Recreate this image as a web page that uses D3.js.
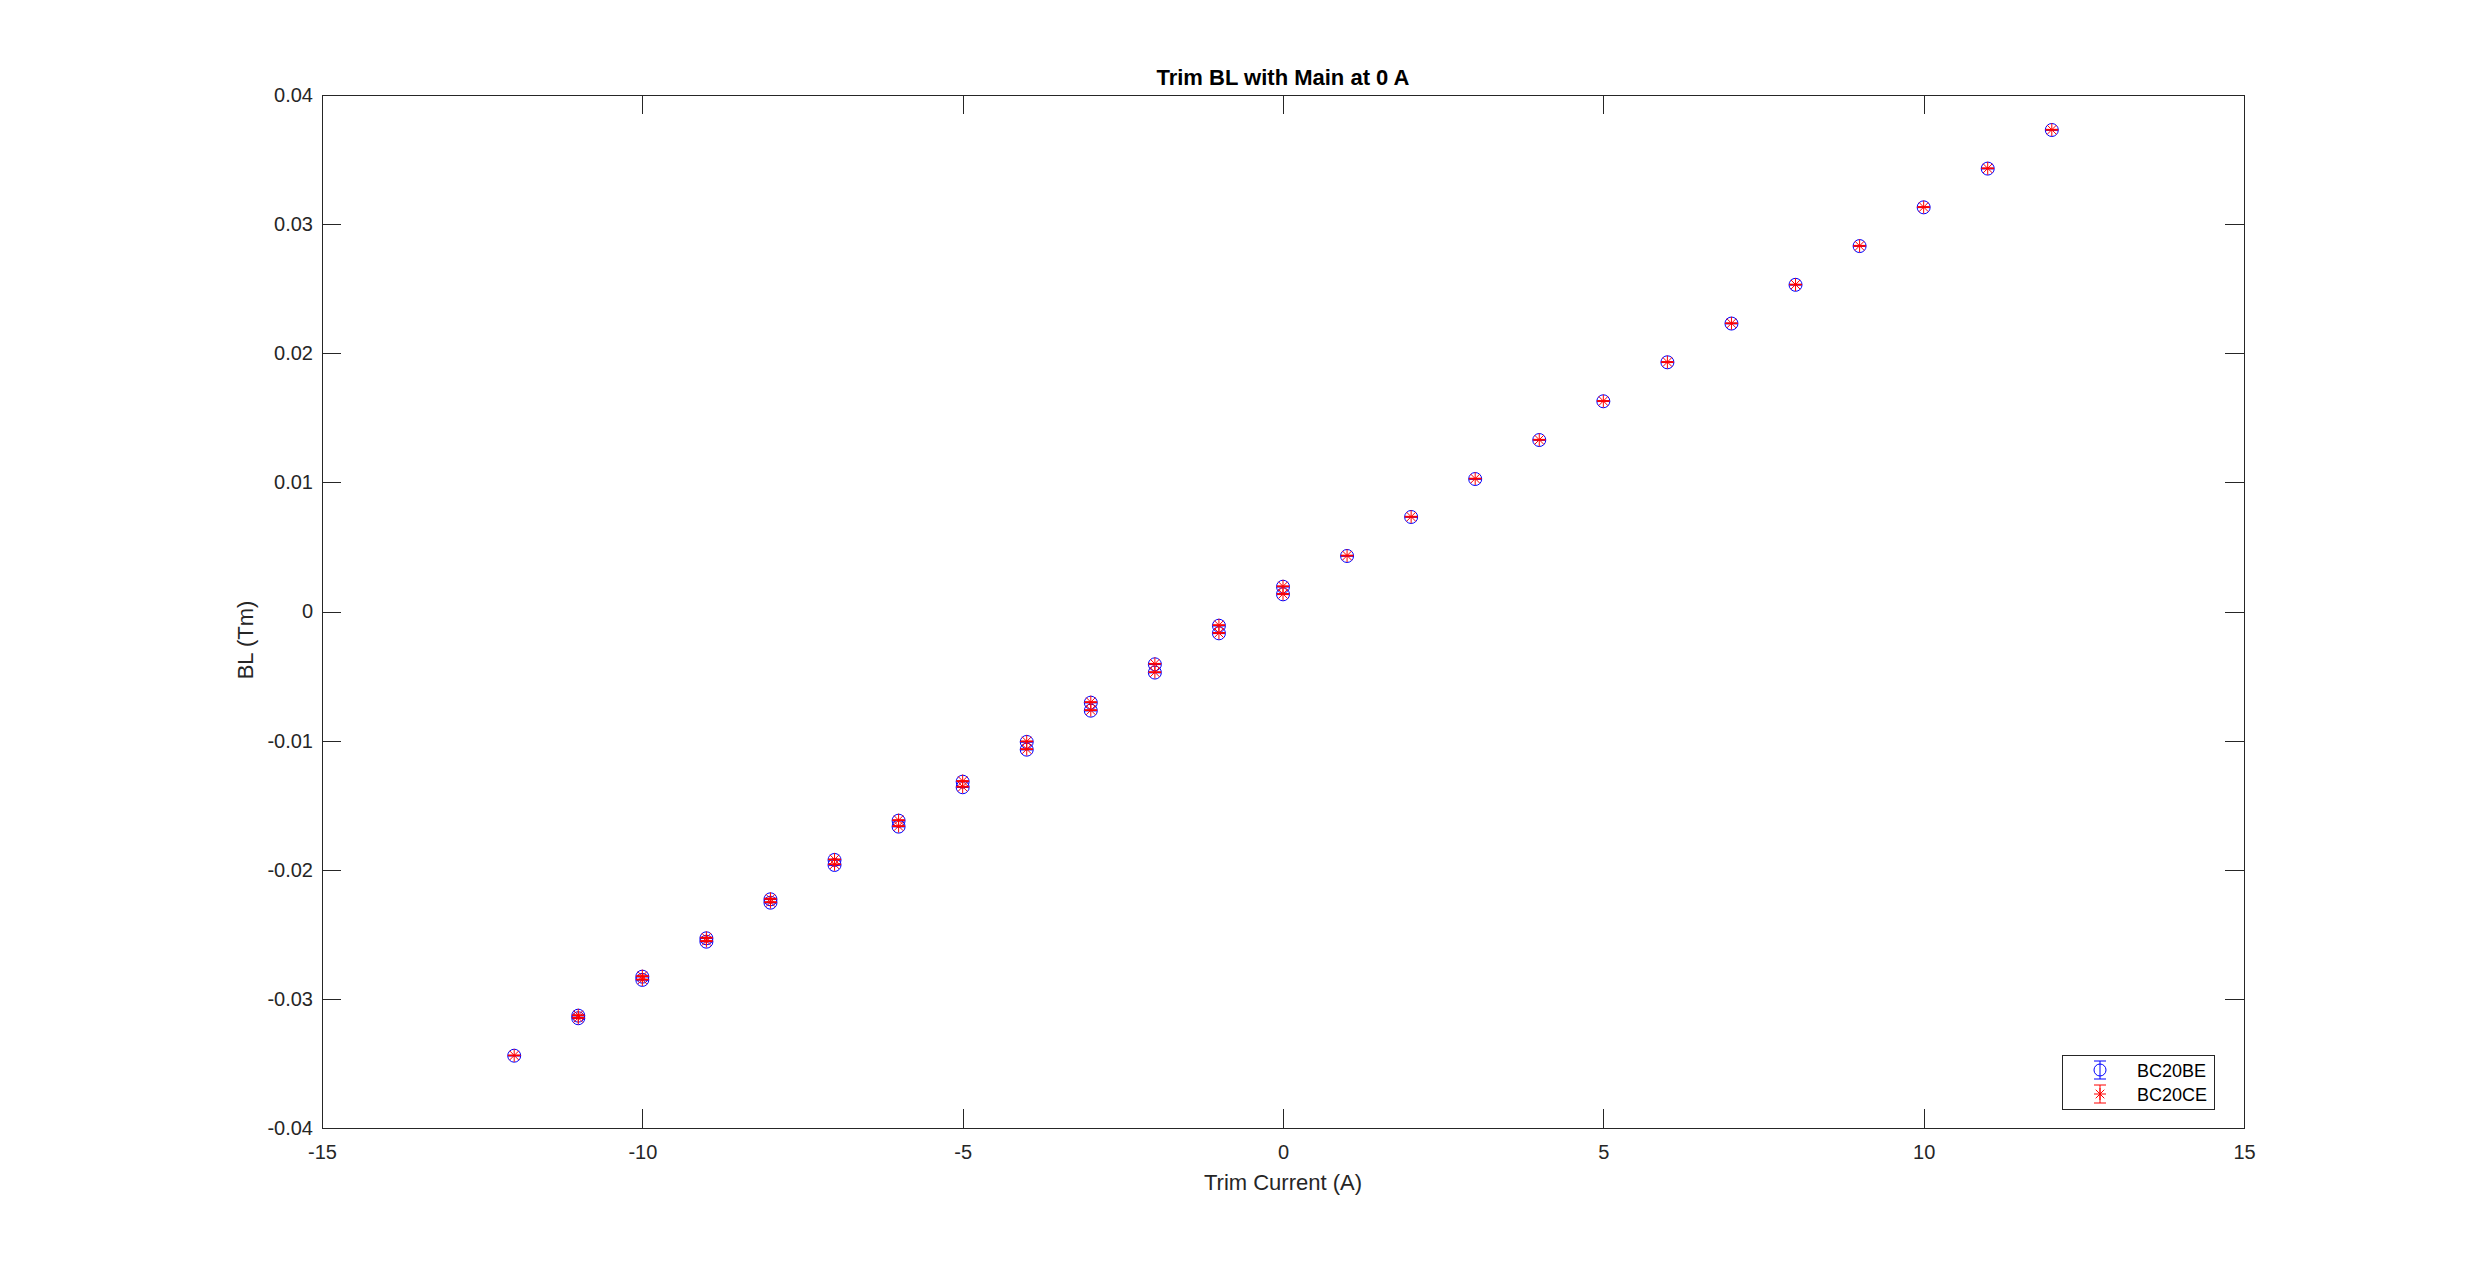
<!DOCTYPE html>
<html lang="en">

<head>
    <meta charset="UTF-8">
    <title>Trim BL with Main at 0 A</title>
    <style>
        body {
            margin: 0;
            background: #fff;
        }

        text {
            font-family: "Liberation Sans", Arial, Helvetica, sans-serif;
        }

        .axis path,
        .axis line {
            stroke: #262626;
            stroke-width: 1;
            shape-rendering: crispEdges;
        }

        .axis text {
            fill: #262626;
            font-size: 20px;
        }
    </style>
</head>

<body>
    <script src="https://d3js.org/d3.v7.min.js"></script>
    <script>

        // trim current (A): sweep -12 -> 12, then the return branch 0 -> -11
        let trim = [-12, -11, -10, -9, -8, -7, -6, -5, -4, -3, -2, -1, 0, 1, 2, 3, 4, 5, 6, 7, 8, 9, 10, 11, 12,
            0, -1, -2, -3, -4, -5, -6, -7, -8, -9, -10, -11];

        // BL (Tm)
        let blBE = [-0.03440, -0.03150, -0.02853, -0.02557, -0.02255, -0.01963, -0.01666, -0.01361, -0.01070, -0.00768,
            -0.00473, -0.00169, 0.00133, 0.00430, 0.00732, 0.01026, 0.01328, 0.01628, 0.01930, 0.02230,
            0.02530, 0.02830, 0.03130, 0.03430, 0.03729,
            0.00192, -0.00110, -0.00409, -0.00706, -0.01010, -0.01318, -0.01620, -0.01924, -0.02229, -0.02531,
            -0.02828, -0.03130];
        let blCE = [-0.03438, -0.03147, -0.02850, -0.02552, -0.02251, -0.01958, -0.01662, -0.01357, -0.01066, -0.00764,
            -0.00470, -0.00166, 0.00136, 0.00433, 0.00734, 0.01029, 0.01330, 0.01630, 0.01932, 0.02232,
            0.02532, 0.02832, 0.03132, 0.03432, 0.03731,
            0.00195, -0.00106, -0.00405, -0.00702, -0.01006, -0.01313, -0.01616, -0.01920, -0.02225, -0.02527,
            -0.02824, -0.03127];

        // error bars (tiny, hidden inside the markers)
        let errBE = [0.00002, 0.00002, 0.00002, 0.00002, 0.00002, 0.00002, 0.00002, 0.00002, 0.00002, 0.00002,
            0.00002, 0.00002, 0.00002, 0.00002, 0.00002, 0.00002, 0.00002, 0.00002, 0.00002, 0.00002,
            0.00002, 0.00002, 0.00002, 0.00002, 0.00002,
            0.00002, 0.00002, 0.00002, 0.00002, 0.00002, 0.00002, 0.00002, 0.00002, 0.00002, 0.00002,
            0.00002, 0.00002];
        let errCE = [0.00003, 0.00003, 0.00003, 0.00003, 0.00003, 0.00003, 0.00003, 0.00003, 0.00003, 0.00003,
            0.00003, 0.00003, 0.00003, 0.00003, 0.00003, 0.00003, 0.00003, 0.00003, 0.00003, 0.00003,
            0.00003, 0.00003, 0.00003, 0.00003, 0.00003,
            0.00003, 0.00003, 0.00003, 0.00003, 0.00003, 0.00003, 0.00003, 0.00003, 0.00003, 0.00003,
            0.00003, 0.00003];

        let seriesNames = ['BC20BE', 'BC20CE'];
        let xTicks = [-15, -10, -5, 0, 5, 10, 15];
        let yTicks = [-0.04, -0.03, -0.02, -0.01, 0, 0.01, 0.02, 0.03, 0.04];

        // 1. svg + scales
        let W = 2481, H = 1269;
        let m = { l: 322, r: 2244, t: 95, b: 1128 };

        let s = d3.select('body').append('svg')
            .attr('width', W)
            .attr('height', H);

        s.append('rect').attr('width', W).attr('height', H).attr('fill', '#fff');

        let x = d3.scaleLinear().domain([-15, 15]).range([m.l, m.r]);
        let y = d3.scaleLinear().domain([-0.04, 0.04]).range([m.b, m.t]);

        let tk = 19;
        let fmt = d => String(d);

        // 2. axes (box with inward ticks on all sides)
        s.append('g').attr('class', 'axis')
            .attr('transform', `translate(0,${m.b})`)
            .call(d3.axisBottom(x).tickValues(xTicks).tickFormat(fmt).tickSizeInner(-tk).tickSizeOuter(0).tickPadding(17));
        s.append('g').attr('class', 'axis')
            .attr('transform', `translate(0,${m.t})`)
            .call(d3.axisTop(x).tickValues(xTicks).tickFormat('').tickSizeInner(-tk).tickSizeOuter(0));
        s.append('g').attr('class', 'axis')
            .attr('transform', `translate(${m.l},0)`)
            .call(d3.axisLeft(y).tickValues(yTicks).tickFormat(fmt).tickSizeInner(-tk).tickSizeOuter(0).tickPadding(9));
        s.append('g').attr('class', 'axis')
            .attr('transform', `translate(${m.r},0)`)
            .call(d3.axisRight(y).tickValues(yTicks).tickFormat('').tickSizeInner(-tk).tickSizeOuter(0));

        s.selectAll('.axis .domain').attr('fill', 'none');

        // 3. labels
        s.append('text')
            .attr('x', x(0)).attr('y', 85)
            .attr('text-anchor', 'middle')
            .style('font-size', '22px').style('font-weight', 'bold')
            .attr('fill', '#000')
            .text('Trim BL with Main at 0 A');

        s.append('text')
            .attr('x', x(0)).attr('y', 1190)
            .attr('text-anchor', 'middle')
            .style('font-size', '22px')
            .attr('fill', '#262626')
            .text('Trim Current (A)');

        s.append('text')
            .attr('transform', 'translate(253,640) rotate(-90)')
            .attr('text-anchor', 'middle')
            .style('font-size', '22px')
            .attr('fill', '#262626')
            .text('BL (Tm)');

        // 4. markers
        let capW = 6;
        let rMk = 6.5;

        function errorBars(g, xs, ys, es, color) {
            let d = xs.map((v, i) => ({ x: v, y: ys[i], e: es[i] }));
            let eb = g.selectAll(null).data(d).enter().append('g').attr('stroke', color).attr('stroke-width', 1);
            eb.append('line')
                .attr('x1', p => x(p.x)).attr('x2', p => x(p.x))
                .attr('y1', p => y(p.y - p.e)).attr('y2', p => y(p.y + p.e));
            eb.append('line')
                .attr('x1', p => x(p.x) - capW).attr('x2', p => x(p.x) + capW)
                .attr('y1', p => y(p.y - p.e)).attr('y2', p => y(p.y - p.e));
            eb.append('line')
                .attr('x1', p => x(p.x) - capW).attr('x2', p => x(p.x) + capW)
                .attr('y1', p => y(p.y + p.e)).attr('y2', p => y(p.y + p.e));
            return d;
        }

        function circleMark(g, cx, cy, r) {
            g.append('circle')
                .attr('cx', cx).attr('cy', cy).attr('r', r)
                .attr('fill', 'none').attr('stroke', '#0000ff').attr('stroke-width', 1);
        }

        function starMark(g, cx, cy, r) {
            let dg = r * 0.72;
            let p = `M${cx - r},${cy}L${cx + r},${cy}M${cx},${cy - r}L${cx},${cy + r}` +
                `M${cx - dg},${cy - dg}L${cx + dg},${cy + dg}M${cx - dg},${cy + dg}L${cx + dg},${cy - dg}`;
            g.append('path').attr('d', p).attr('fill', 'none').attr('stroke', '#ff0000').attr('stroke-width', 1);
        }

        let gBE = s.append('g').attr('class', 'BE');
        let dBE = errorBars(gBE, trim, blBE, errBE, '#0000ff');
        dBE.forEach(p => circleMark(gBE, x(p.x), y(p.y), rMk));

        let gCE = s.append('g').attr('class', 'CE');
        let dCE = errorBars(gCE, trim, blCE, errCE, '#ff0000');
        dCE.forEach(p => starMark(gCE, x(p.x), y(p.y), rMk));

        // 5. legend
        let lg = s.append('g').attr('class', 'legend');
        lg.append('rect')
            .attr('x', 2062).attr('y', 1055).attr('width', 152).attr('height', 54)
            .attr('fill', '#fff').attr('stroke', '#262626').attr('stroke-width', 1)
            .attr('shape-rendering', 'crispEdges');

        let colors = ['#0000ff', '#ff0000'];
        seriesNames.forEach((nm, i) => {
            let cy = 1070 + i * 24;
            let cx = 2100;
            let e = lg.append('g').attr('stroke', colors[i]).attr('stroke-width', 1);
            e.append('line').attr('x1', cx).attr('x2', cx).attr('y1', cy - 9).attr('y2', cy + 9);
            e.append('line').attr('x1', cx - capW).attr('x2', cx + capW).attr('y1', cy - 9).attr('y2', cy - 9);
            e.append('line').attr('x1', cx - capW).attr('x2', cx + capW).attr('y1', cy + 9).attr('y2', cy + 9);
            if (i == 0) circleMark(lg, cx, cy, 6);
            else starMark(lg, cx, cy, 6);
            lg.append('text')
                .attr('x', 2137).attr('y', cy + 6.5)
                .style('font-size', '18px')
                .attr('fill', '#000')
                .text(nm);
        });
    </script>
</body>

</html>
